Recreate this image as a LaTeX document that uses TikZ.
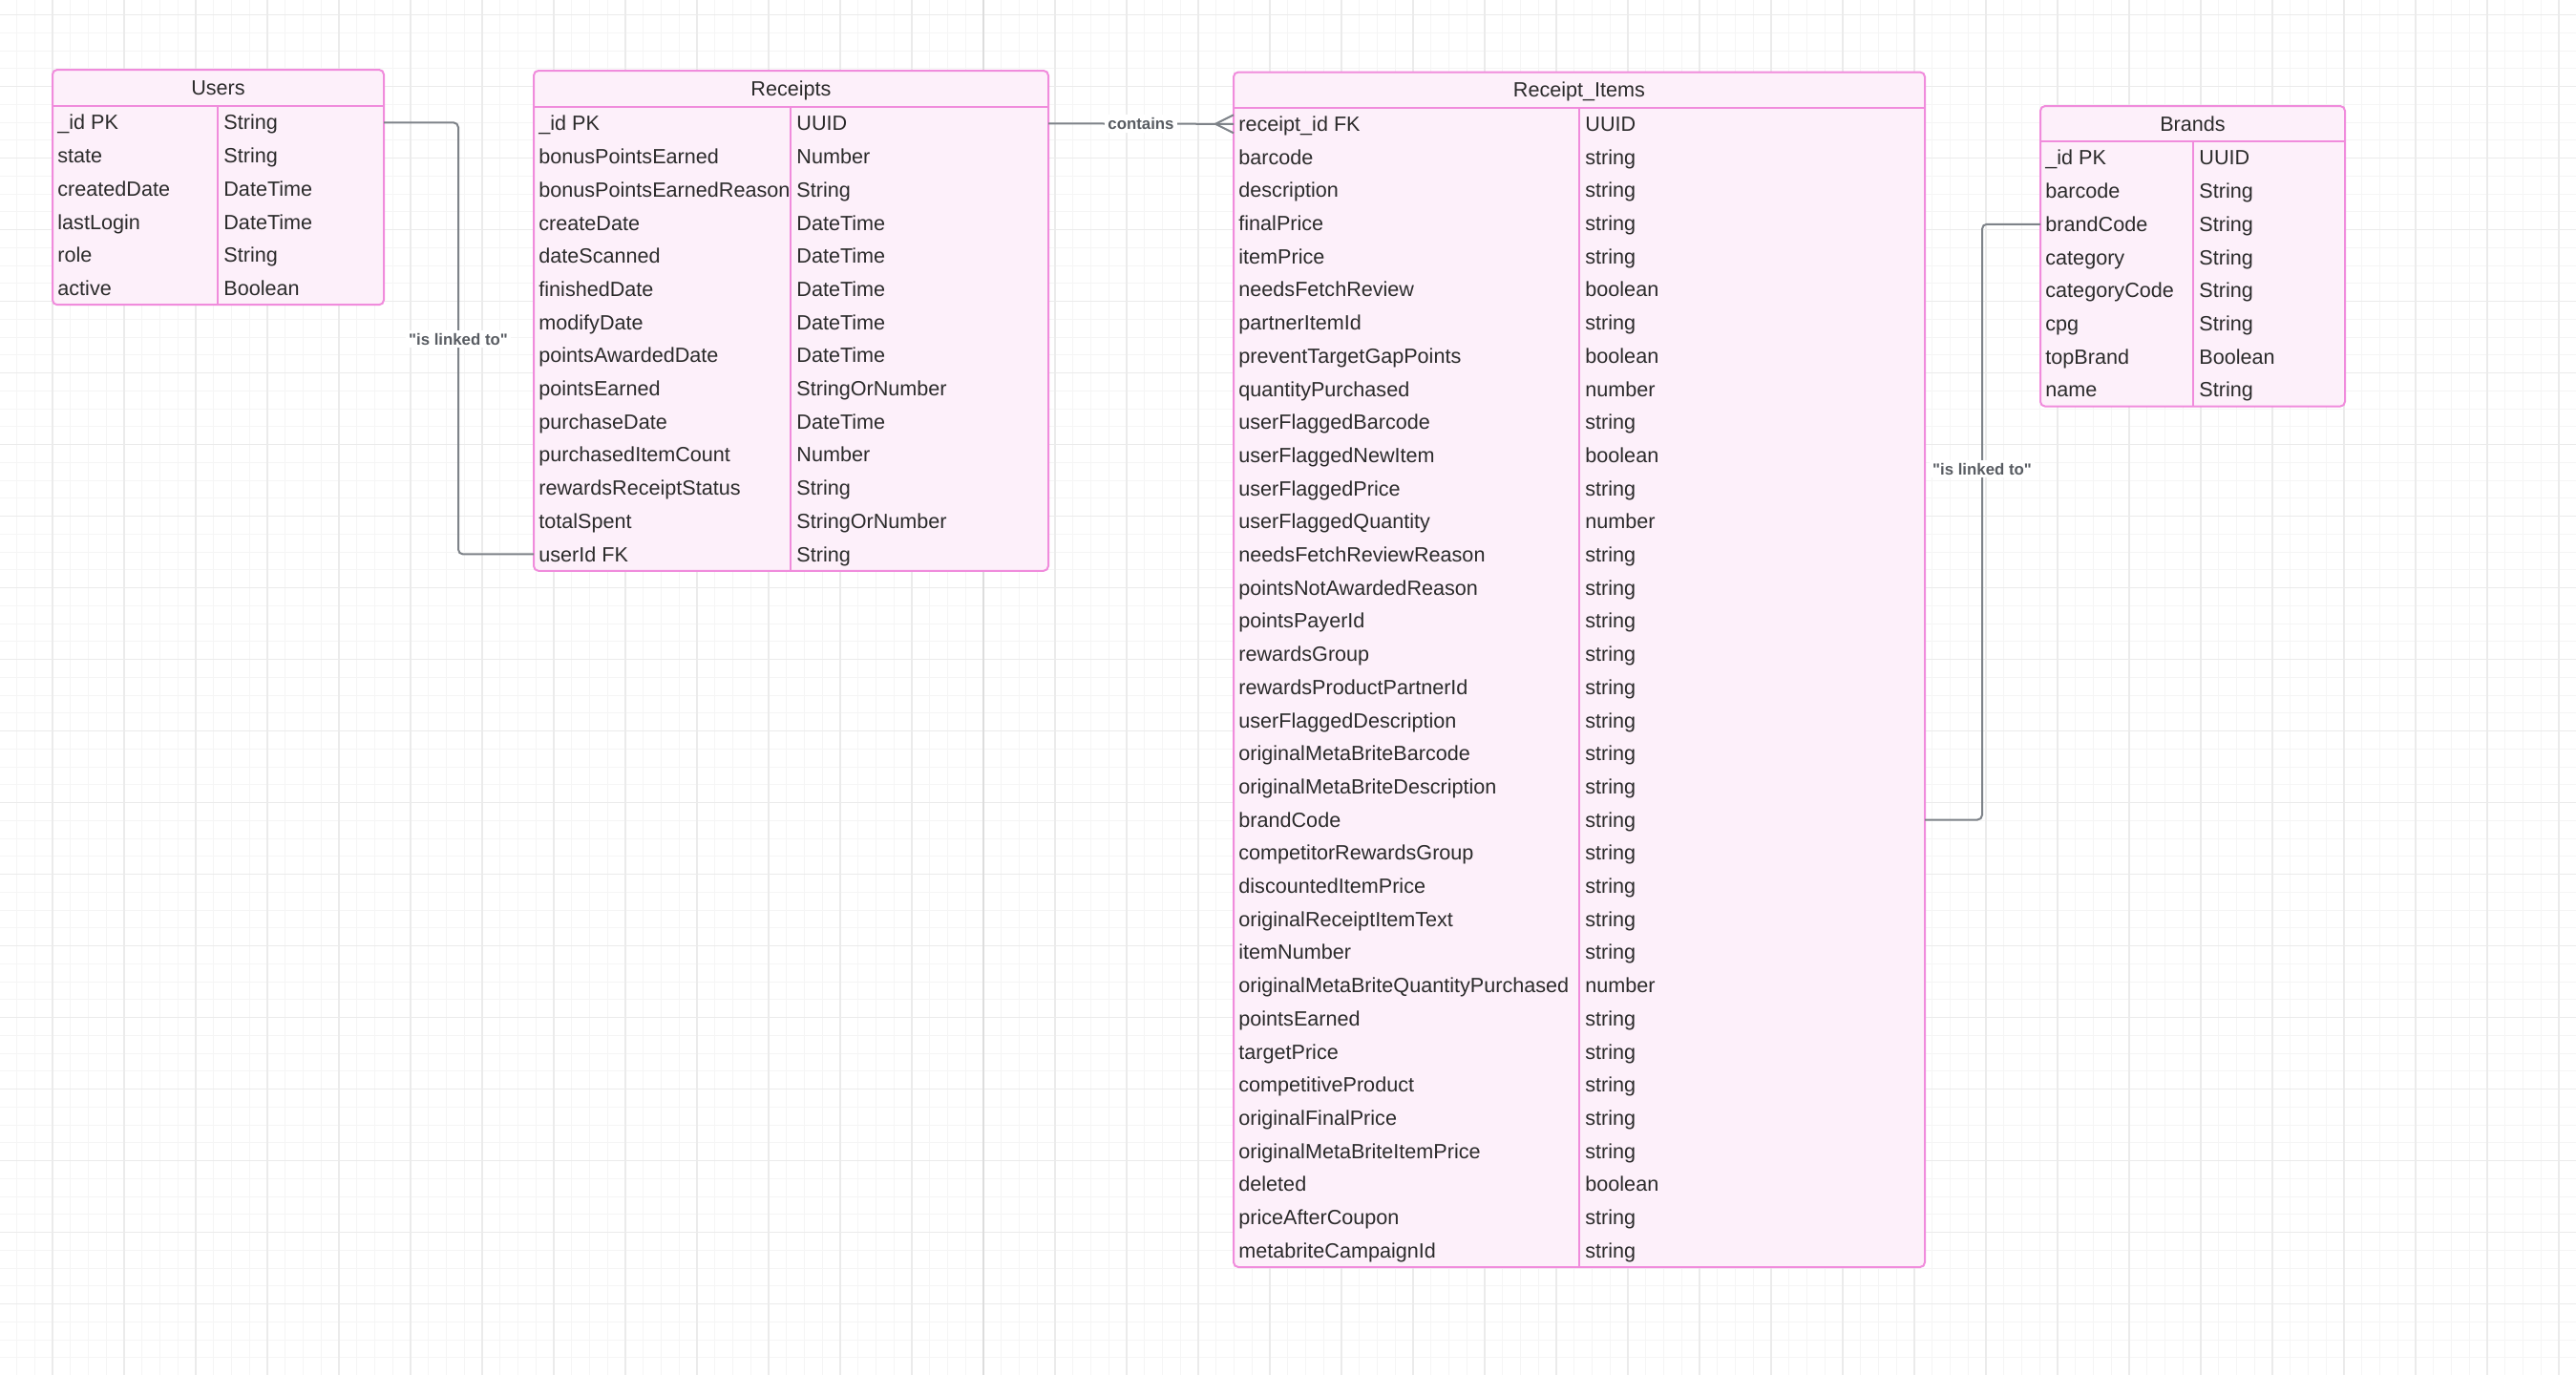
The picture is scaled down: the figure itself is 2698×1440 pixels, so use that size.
\documentclass[tikz,border=0pt]{standalone}
\usepackage{fontspec}
\setmainfont{Liberation Sans}
\newfontfamily\lblfont{Liberation Sans}
\usetikzlibrary{fit,calc}
\definecolor{pinkstroke}{HTML}{F08CDC}
\definecolor{pinkfill}{HTML}{FDF0FA}
\definecolor{conncol}{HTML}{7E8389}
\definecolor{txtcol}{HTML}{2B2B2B}
\definecolor{lblcol}{HTML}{585C62}
\definecolor{gridminor}{HTML}{F5F5F5}
\definecolor{gridmajor}{HTML}{EBEBEB}
\definecolor{gridaxis}{HTML}{DDDDDD}
\tikzset{
  tablebox/.style={draw=pinkstroke, fill=pinkfill, line width=1pt, rounded corners=2.5pt, inner sep=0pt},
  pinkline/.style={draw=pinkstroke, line width=1pt},
  celltext/.style={anchor=base west, inner sep=0pt, text=txtcol, font=\fontsize{10.8}{13}\selectfont},
  titletext/.style={anchor=base, inner sep=0pt, text=txtcol, font=\fontsize{10.8}{13}\selectfont},
  conn/.style={draw=conncol, line width=1pt},
  lbl/.style={fill=white, inner sep=1.5pt, text=lblcol, font=\lblfont\bfseries\fontsize{8.4}{10}\selectfont},
}
\newcommand{\ertable}[9]{%
  \coordinate (#1-nw) at (#2,#5);
  \coordinate (#1-se) at (#3,{#6+#7*34.7});
  \node[tablebox, fit=(#1-nw)(#1-se)] (#1) {};
  \draw[pinkline] (#2,#6) -- (#3,#6);
  \draw[pinkline] (#4,#6) -- (#4,{#6+#7*34.7});
  \node[titletext] (#1-title) at ({(#2+#3)/2},{(#5+#6)/2+7.6}) {#8};
  \foreach \f/\t [count=\i from 0] in {#9} {
    \pgfmathsetmacro\yc{#6+34.7*(\i+0.5)}
    \node[celltext] (#1-f\i) at (#2+5,\yc+7.6) {\f};
    \node[celltext] (#1-t\i) at (#4+6,\yc+7.6) {\t};
    \coordinate (#1-l\i) at (#2,\yc);
    \coordinate (#1-r\i) at (#3,\yc);
  }
}
\begin{document}
\begin{tikzpicture}[x=0.5pt,y=-0.5pt]
\useasboundingbox (0,0) rectangle (2698,1440);
\fill[white] (0,0) rectangle (2698,1440);
% grid
\foreach \gx in {17.5,36.25,...,2698} {\draw[gridminor, line width=0.5pt] (\gx,0) -- (\gx,1440);}
\foreach \gy in {15.7,34.45,...,1440} {\draw[gridminor, line width=0.5pt] (0,\gy) -- (2698,\gy);}
\foreach \gx in {55,130,...,2698} {\draw[gridmajor, line width=0.6pt] (\gx,0) -- (\gx,1440);}
\foreach \gy in {15.7,90.7,...,1440} {\draw[gridmajor, line width=0.6pt] (0,\gy) -- (2698,\gy);}
\draw[gridaxis, line width=0.9pt] (1030,0) -- (1030,1440);

% tables
\ertable{users}{55}{402}{228}{73}{111}{6}{Users}{\_id PK/String, state/String, createdDate/DateTime, lastLogin/DateTime, role/String, active/Boolean}

\ertable{receipts}{559}{1098}{828}{74}{112}{14}{Receipts}{\_id PK/UUID, bonusPointsEarned/Number, bonusPointsEarnedReason/String, createDate/DateTime, dateScanned/DateTime, finishedDate/DateTime, modifyDate/DateTime, pointsAwardedDate/DateTime, pointsEarned/StringOrNumber, purchaseDate/DateTime, purchasedItemCount/Number, rewardsReceiptStatus/String, totalSpent/StringOrNumber, userId FK/String}

\ertable{items}{1292}{2016}{1654}{75.5}{112.5}{35}{Receipt\_Items}{receipt\_id FK/UUID, barcode/string, description/string, finalPrice/string, itemPrice/string, needsFetchReview/boolean, partnerItemId/string, preventTargetGapPoints/boolean, quantityPurchased/number, userFlaggedBarcode/string, userFlaggedNewItem/boolean, userFlaggedPrice/string, userFlaggedQuantity/number, needsFetchReviewReason/string, pointsNotAwardedReason/string, pointsPayerId/string, rewardsGroup/string, rewardsProductPartnerId/string, userFlaggedDescription/string, originalMetaBriteBarcode/string, originalMetaBriteDescription/string, brandCode/string, competitorRewardsGroup/string, discountedItemPrice/string, originalReceiptItemText/string, itemNumber/string, originalMetaBriteQuantityPurchased/number, pointsEarned/string, targetPrice/string, competitiveProduct/string, originalFinalPrice/string, originalMetaBriteItemPrice/string, deleted/boolean, priceAfterCoupon/string, metabriteCampaignId/string}

\ertable{brands}{2137}{2456}{2297}{111}{148}{8}{Brands}{\_id PK/UUID, barcode/String, brandCode/String, category/String, categoryCode/String, cpg/String, topBrand/Boolean, name/String}

% connectors
\coordinate (ux) at (480,0);
\coordinate (bx) at (2076,0);
\draw[conn, rounded corners=2.5pt] (users-r0) -| (ux |- receipts-l13) -- (receipts-l13);
\node[lbl] (lblusers) at (480,355) {"is linked to"};

\draw[conn, rounded corners=2.5pt] (brands-l2) -| (bx |- items-r21) -- (items-r21);
\node[lbl] (lblbrands) at (2076,491) {"is linked to"};

\draw[conn] (receipts-r0) -- (items-l0);
\draw[conn] ($(items-l0)+(0,-9.5)$) -- ($(items-l0)+(-19,0)$) -- ($(items-l0)+(0,9.5)$);
\node[lbl] (lblcontains) at (1195,129.6) {contains};
\end{tikzpicture}
\end{document}
